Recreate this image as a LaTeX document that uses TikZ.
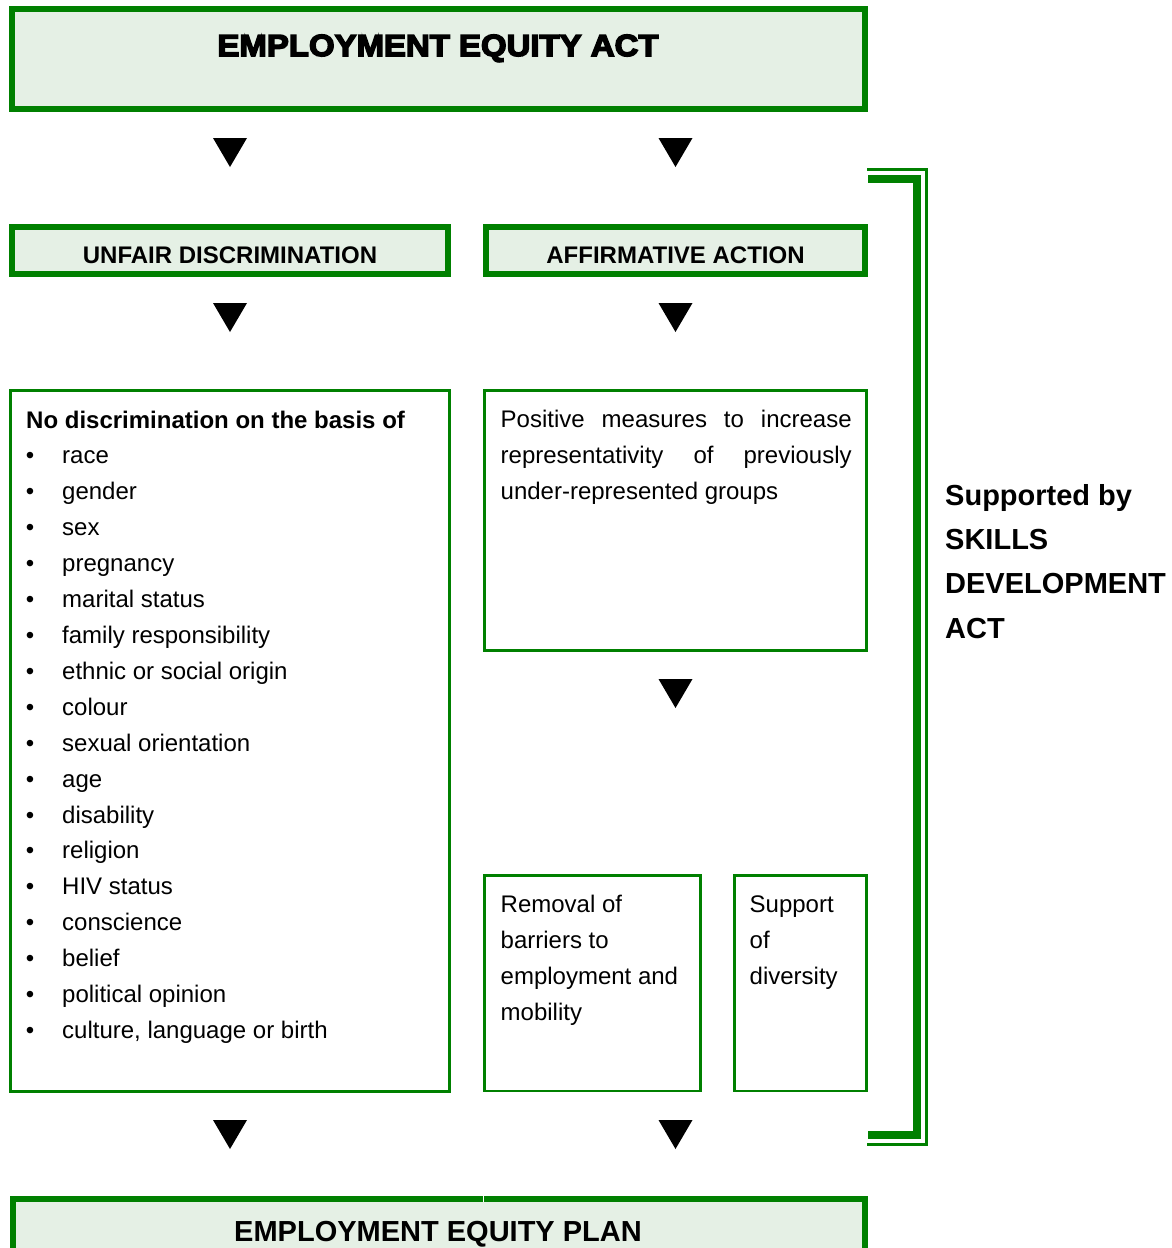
\documentclass[tikz,border=0pt]{standalone}
\usepackage{fontspec}
\setmainfont{Liberation Sans}
\newfontfamily\heavyfont[FakeStretch=1.08,RawFeature={embolden=5}]{Liberation Sans Bold}
\definecolor{framegreen}{RGB}{0,128,0}
\definecolor{panelfill}{RGB}{229,240,229}

\tikzset{
  thickframe/.style={draw=framegreen, line width=6pt, fill=panelfill, rectangle,
    inner sep=0pt, outer sep=0pt, anchor=north west},
  thinframe/.style={draw=framegreen, line width=2.6pt, fill=white, rectangle,
    inner sep=0pt, outer sep=0pt, anchor=north west},
  bodytext/.style={anchor=base west, inner sep=0pt, font=\fontsize{24}{36}\selectfont},
  bullettext/.style={anchor=base, inner sep=0pt, font=\fontsize{24}{36}\selectfont},
  headtext/.style={anchor=base, inner sep=0pt, font=\bfseries\fontsize{24}{30}\selectfont},
  sidetext/.style={anchor=base west, inner sep=0pt, font=\bfseries\fontsize{29}{44}\selectfont},
  pics/downtri/.style={code={\fill[black] (-17,0) -- (17,0) -- (0,29) -- cycle;}},
}

\begin{document}
\begin{tikzpicture}[x=1pt,y=-1pt]
\useasboundingbox (0,0) rectangle (1171,1248);
\clip (0,0) rectangle (1171,1248);
\fill[white] (0,0) rectangle (1171,1248);

% top panel
\node[thickframe, minimum width=853pt, minimum height=100pt] (eea) at (12,9) {};
\node[anchor=base, inner sep=0pt, font=\heavyfont\fontsize{30.5}{30.5}\selectfont] (eeaT) at (438,56) {EMPLOYMENT EQUITY ACT};

\pic at (230,138) {downtri};
\pic at (675.5,138) {downtri};

% second row headings
\node[thickframe, minimum width=436pt, minimum height=47pt] (ud) at (12,227) {};
\node[headtext] (udT) at (230,263.3) {UNFAIR DISCRIMINATION};
\node[thickframe, minimum width=379pt, minimum height=47pt] (aa) at (486,227) {};
\node[headtext] (aaT) at (675.5,263.3) {AFFIRMATIVE ACTION};

\pic at (230,303) {downtri};
\pic at (675.5,303) {downtri};

% grounds of discrimination
\node[thinframe, minimum width=439pt, minimum height=701pt] (grounds) at (10.7,390.7) {};
\node[anchor=base west, inner sep=0pt, font=\bfseries\fontsize{24}{36}\selectfont] (gHead) at (26,428) {No discrimination on the basis of};
\foreach \g [count=\i from 0] in {race, gender, sex, pregnancy, marital status,
  family responsibility, ethnic or social origin, colour, sexual orientation, age,
  disability, religion, HIV status, conscience, belief, political opinion,
  {culture, language or birth}} {
  \node[bullettext] (b\i) at (30,463.5+35.95*\i) {\textbullet};
  \node[bodytext] (g\i) at (62,463.5+35.95*\i) {\g};
}

% positive measures
\node[thinframe, minimum width=382pt, minimum height=260pt] (pos) at (484.7,390.7) {};
\node[bodytext] (pos1) at (500.5,427) {\makebox[351pt][s]{Positive measures to increase}};
\node[bodytext] (pos2) at (500.5,463) {\makebox[351pt][s]{representativity of previously}};
\node[bodytext] (pos3) at (500.5,499) {under-represented groups};

\pic at (675.5,679) {downtri};

% removal of barriers / support of diversity
\node[thinframe, minimum width=215.6pt, minimum height=215.7pt] (rem) at (484.7,875.3) {};
\node[bodytext] (rem1) at (500.5,912) {Removal of};
\node[bodytext] (rem2) at (500.5,948) {barriers to};
\node[bodytext] (rem3) at (500.5,984) {employment and};
\node[bodytext] (rem4) at (500.5,1020) {mobility};

\node[thinframe, minimum width=131.6pt, minimum height=215.7pt] (div) at (734.7,875.3) {};
\node[bodytext] (div1) at (749.5,912) {Support};
\node[bodytext] (div2) at (749.5,948) {of};
\node[bodytext] (div3) at (749.5,984) {diversity};

\pic at (230,1120) {downtri};
\pic at (675.5,1120) {downtri};

% bottom panel
\node[thickframe, minimum width=852pt, minimum height=90pt] (eep) at (12.8,1199) {};
\draw[white, line width=1pt] (483.5,1195.5) -- (483.5,1202);
\node[anchor=base, inner sep=0pt, font=\bfseries\fontsize{29}{29}\selectfont] (eepT) at (438,1241.7) {EMPLOYMENT EQUITY PLAN};

% bracket for the supporting act
\coordinate (brA) at (868,179);
\coordinate (brB) at (917,179);
\coordinate (brC) at (917,1135);
\coordinate (brD) at (868,1135);
\draw[framegreen, line width=8pt] (brA) -- (brB) -- (brC) -- (brD);
\coordinate (bsA) at (867,169.2);
\coordinate (bsB) at (926.5,169.2);
\coordinate (bsC) at (926.5,1144.2);
\coordinate (bsD) at (867,1144.2);
\draw[framegreen, line width=3pt] (bsA) -- (bsB) -- (bsC) -- (bsD);

\node[sidetext] (s1) at (945,505) {Supported by};
\node[sidetext] (s2) at (945,549) {SKILLS};
\node[sidetext] (s3) at (945,593.5) {DEVELOPMENT};
\node[sidetext] (s4) at (945,638) {ACT};
\end{tikzpicture}
\end{document}
